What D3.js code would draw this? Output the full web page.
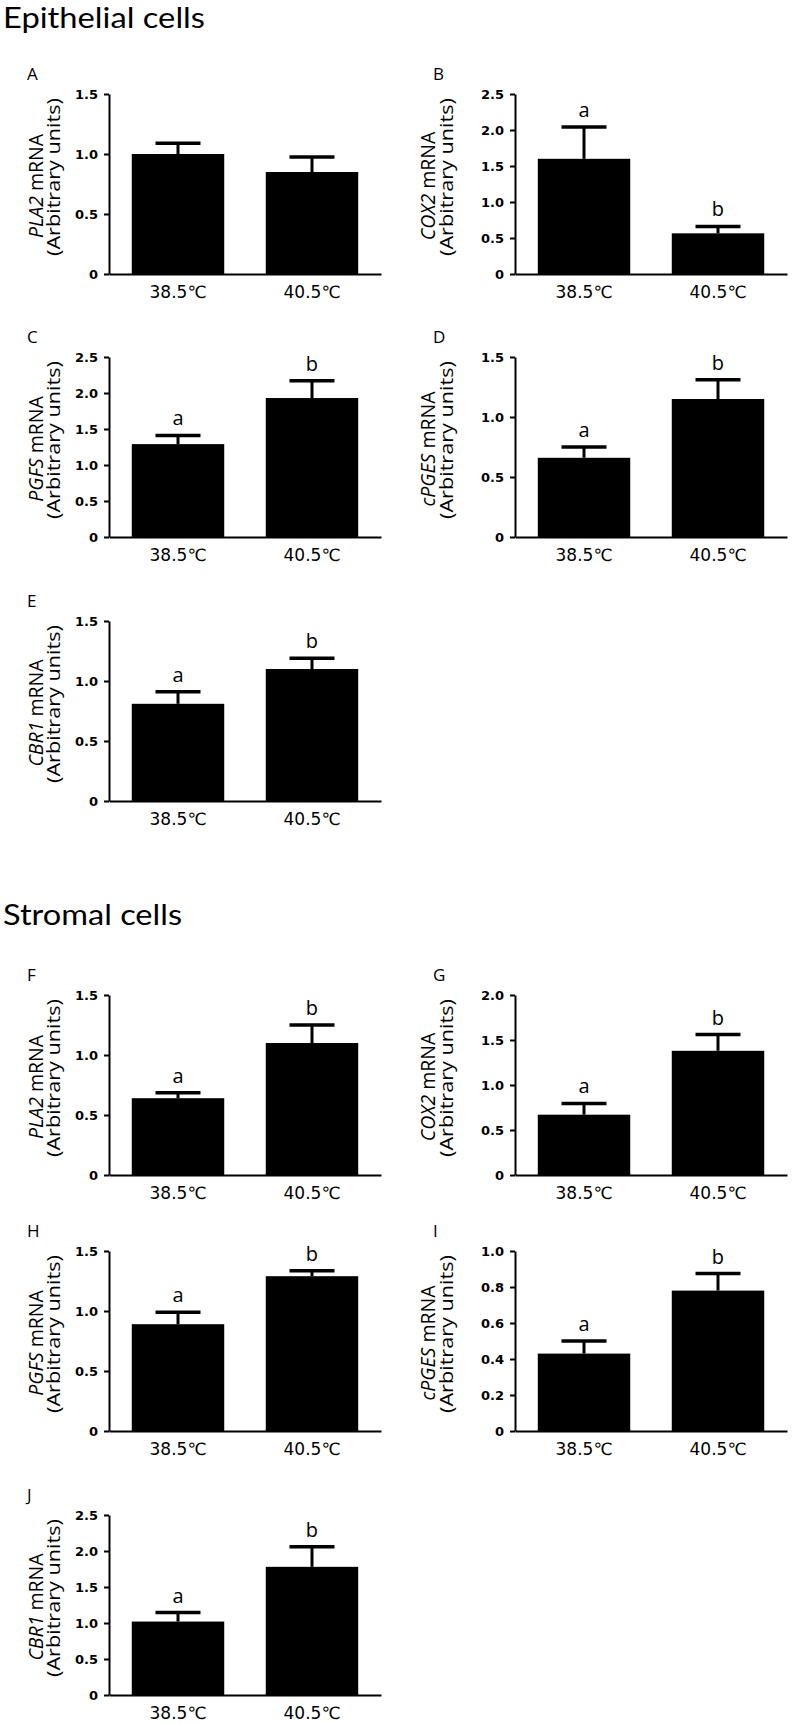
<!DOCTYPE html>
<html>
<head>
<meta charset="utf-8">
<script src="https://cdn.jsdelivr.net/npm/d3@7"></script>
<style>
  html, body { margin: 0; padding: 0; background: #fff; }
  svg { display: block; }
</style>
</head>
<body>
<script>
// ---------- data ----------
const categories = ["38.5\u2103", "40.5\u2103"];
const panelIds = ["A", "B", "C", "D", "E", "F", "G", "H", "I", "J"];
const genes = ["PLA2", "COX2", "PGFS", "cPGES", "CBR1", "PLA2", "COX2", "PGFS", "cPGES", "CBR1"];
const sectionTitles = ["Epithelial cells", "Stromal cells"];
const yMax = [1.5, 2.5, 2.5, 1.5, 1.5, 1.5, 2.0, 1.5, 1.0, 2.5];
const tickStep = [0.5, 0.5, 0.5, 0.5, 0.5, 0.5, 0.5, 0.5, 0.2, 0.5];
const mean385 = [1.00, 1.60, 1.29, 0.66, 0.81, 0.64, 0.67, 0.89, 0.43, 1.02];
const mean405 = [0.85, 0.565, 1.93, 1.15, 1.10, 1.10, 1.38, 1.29, 0.78, 1.78];
const sem385 = [0.09, 0.44, 0.12, 0.09, 0.10, 0.045, 0.125, 0.10, 0.07, 0.125];
const sem405 = [0.125, 0.095, 0.24, 0.16, 0.09, 0.15, 0.18, 0.045, 0.095, 0.28];
const letters385 = ["", "a", "a", "a", "a", "a", "a", "a", "a", "a"];
const letters405 = ["", "b", "b", "b", "b", "b", "b", "b", "b", "b"];

// ---------- layout ----------
const W = 793, H = 1725;
const plotW = 272, plotH = 180;
const colX = [109, 515];
const labelOff = [[66, 49], [80, 62]];   // y-label baseline offsets from axis, per column
const rowTops = [94, 357, 621, 995, 1251, 1515];
const panelPos = [
  [0, 0], [1, 0], [0, 1], [1, 1], [0, 2],
  [0, 3], [1, 3], [0, 4], [1, 4], [0, 5]
];
const titleY = [28, 925];
const SANS = "'DejaVu Sans', 'Noto Sans', sans-serif";
const SOFT = "'Open Sans', 'Noto Sans', sans-serif";

const svg = d3.select("body").append("svg")
  .attr("width", W).attr("height", H)
  .attr("viewBox", `0 0 ${W} ${H}`);

sectionTitles.forEach((t, i) => {
  svg.append("text")
    .attr("x", 3).attr("y", titleY[i])
    .style("font-family", "Lato, 'Open Sans', sans-serif")
    .style("font-size", "28px")
    .attr("textLength", i === 0 ? 202 : 179)
    .attr("lengthAdjust", "spacingAndGlyphs")
    .attr("fill", "#000")
    .text(t);
});

panelIds.forEach((id, i) => {
  const [c, r] = panelPos[i];
  const x0 = colX[c], top = rowTops[r], zero = top + plotH;
  const g = svg.append("g");

  const x = d3.scaleBand().domain(categories)
    .range([x0, x0 + plotW]).paddingInner(0.31).paddingOuter(0.17);
  const y = d3.scaleLinear().domain([0, yMax[i]]).range([zero, top]);

  const means = [mean385[i], mean405[i]];
  const sems = [sem385[i], sem405[i]];
  const letters = [letters385[i], letters405[i]];
  const rows = categories.map((k, j) => ({ k, m: means[j], s: sems[j], l: letters[j] }));

  // bars
  g.selectAll("rect.bar").data(rows).join("rect")
    .attr("class", "bar")
    .attr("x", d => x(d.k))
    .attr("width", x.bandwidth())
    .attr("y", d => y(d.m))
    .attr("height", d => y(0) - y(d.m))
    .attr("fill", "#000");

  // error bars
  const cx = d => x(d.k) + x.bandwidth() / 2;
  g.selectAll("line.err").data(rows).join("line")
    .attr("class", "err")
    .attr("x1", cx).attr("x2", cx)
    .attr("y1", d => y(d.m)).attr("y2", d => y(d.m + d.s))
    .attr("stroke", "#000").attr("stroke-width", 3);
  g.selectAll("line.cap").data(rows).join("line")
    .attr("class", "cap")
    .attr("x1", d => cx(d) - 22.5).attr("x2", d => cx(d) + 22.5)
    .attr("y1", d => y(d.m + d.s)).attr("y2", d => y(d.m + d.s))
    .attr("stroke", "#000").attr("stroke-width", 3.5);

  // significance letters
  g.selectAll("text.sig").data(rows.filter(d => d.l)).join("text")
    .attr("class", "sig")
    .attr("x", cx)
    .attr("y", d => y(d.m + d.s) - 10)
    .attr("text-anchor", "middle")
    .style("font-family", SOFT)
    .style("font-size", "20px")
    .text(d => d.l);

  // y axis
  const tv = d3.range(0, yMax[i] + 1e-9, tickStep[i]);
  const ya = g.append("g")
    .attr("transform", `translate(${x0},0)`)
    .call(d3.axisLeft(y).tickValues(tv).tickSize(5).tickSizeOuter(0).tickPadding(6)
      .tickFormat(v => v === 0 ? "0" : d3.format(".1f")(v)));
  ya.selectAll("text")
    .style("font-family", SANS).style("font-weight", "bold")
    .style("font-size", "13px").attr("fill", "#000");
  ya.select(".domain").attr("stroke-width", 2);
  ya.selectAll(".tick line").attr("stroke-width", 2);

  // x axis
  const xa = g.append("g")
    .attr("transform", `translate(0,${zero})`)
    .call(d3.axisBottom(x).tickSize(0).tickSizeOuter(0).tickPadding(12));
  xa.selectAll("text")
    .style("font-family", SANS)
    .style("font-weight", "normal")
    .style("font-size", "17px").attr("fill", "#000");
  xa.select(".domain").attr("stroke-width", 2);

  // panel letter
  g.append("text")
    .attr("x", x0 - 82).attr("y", top - 14)
    .style("font-family", SOFT)
    .style("font-size", "17px")
    .text(id);

  // y-axis label (two lines)
  const mid = (top + zero) / 2;
  const [o1, o2] = labelOff[c];
  const l1 = g.append("text")
    .attr("transform", `translate(${x0 - o1},${mid + 2}) rotate(-90)`)
    .attr("text-anchor", "middle")
    .style("font-family", SOFT)
    .style("font-size", "19.5px");
  l1.append("tspan").style("font-style", "italic").text(genes[i]);
  l1.append("tspan").text(" mRNA");
  g.append("text")
    .attr("transform", `translate(${x0 - o2},${mid - 7}) rotate(-90)`)
    .attr("text-anchor", "middle")
    .style("font-family", SOFT)
    .style("font-size", "19px")
    .attr("textLength", 158)
    .attr("lengthAdjust", "spacingAndGlyphs")
    .text("(Arbitrary units)");
});
</script>
</body>
</html>
